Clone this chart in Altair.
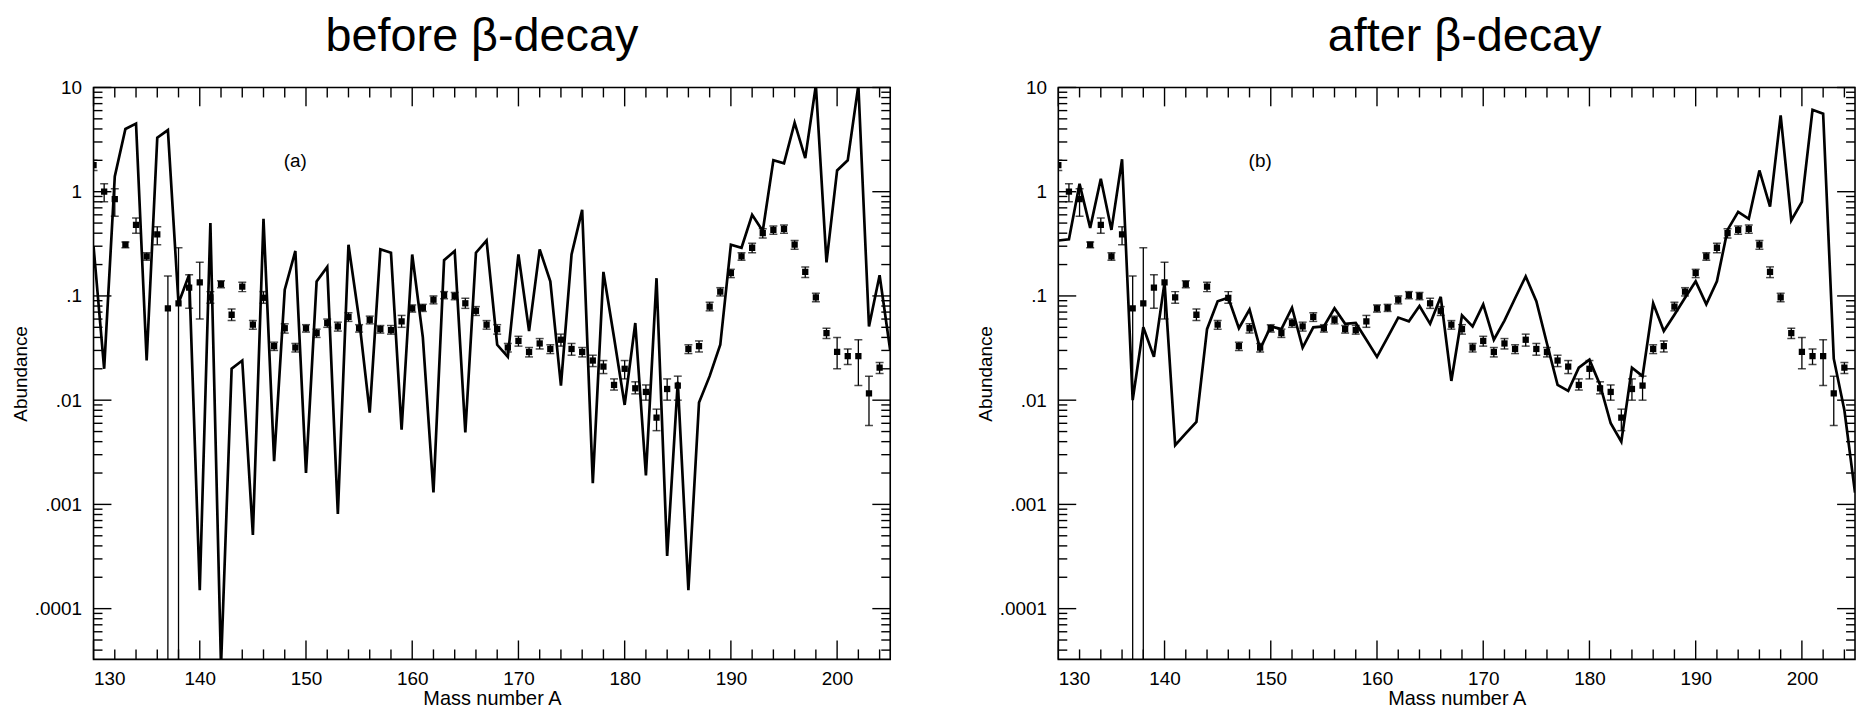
import altair as alt
import pandas as pd

FONT = "Liberation Sans"

# Mass numbers
A_MODEL = list(range(130, 206))
A_OBS = list(range(130, 205))

# Calculated abundances (solid line), panel (a): before beta-decay
before = [0.3, 0.02, 1.4, 4.0, 4.5, 0.024, 3.3, 3.9, 0.085, 0.16,
          1.5e-4, 0.5, 2.8e-5, 0.02, 0.024, 5.1e-4, 0.55, 0.0026, 0.115, 0.27,
          0.002, 0.138, 0.19, 8.1e-4, 0.31, 0.06, 0.0076, 0.28, 0.26, 0.0052,
          0.25, 0.04, 0.0013, 0.22, 0.27, 0.0049, 0.26, 0.34, 0.034, 0.026,
          0.25, 0.046, 0.28, 0.138, 0.0138, 0.25, 0.67, 0.0016, 0.17, 0.04,
          0.009, 0.055, 0.0019, 0.148, 3.2e-4, 0.015, 1.5e-4, 0.0095, 0.017, 0.034,
          0.31, 0.29, 0.6, 0.42, 2.0, 1.87, 4.6, 2.1, 10.5, 0.21,
          1.6, 2.0, 10.5, 0.051, 0.158, 0.03]

# Calculated abundances (solid line), panel (b): after beta-decay
after = [0.34, 0.35, 1.19, 0.45, 1.33, 0.43, 2.05, 0.01, 0.05, 0.026,
         0.135, 0.0037, 0.0048, 0.0062, 0.048, 0.089, 0.096, 0.049, 0.074, 0.031,
         0.051, 0.048, 0.077, 0.032, 0.05, 0.051, 0.076, 0.054, 0.055, 0.038,
         0.026, 0.04, 0.062, 0.057, 0.08, 0.054, 0.098, 0.0153, 0.065, 0.051,
         0.083, 0.038, 0.058, 0.095, 0.154, 0.089, 0.035, 0.014, 0.0123, 0.0205,
         0.0245, 0.014, 0.006, 0.004, 0.0205, 0.017, 0.085, 0.046, 0.066, 0.096,
         0.138, 0.083, 0.138, 0.43, 0.64, 0.55, 1.6, 0.72, 5.4, 0.53,
         0.8, 6.1, 5.6, 0.025, 0.008, 0.0013]

# Observed (solar r-process) abundances with error bars
obs = [1.8, 1.0, 0.85, 0.31, 0.48, 0.24, 0.39, 0.076, 0.085, 0.12,
       0.135, 0.097, 0.13, 0.066, 0.123, 0.053, 0.096, 0.033, 0.049, 0.032,
       0.049, 0.044, 0.055, 0.051, 0.063, 0.049, 0.059, 0.048, 0.047, 0.057,
       0.076, 0.077, 0.092, 0.102, 0.1, 0.085, 0.072, 0.053, 0.048, 0.032,
       0.037, 0.029, 0.035, 0.031, 0.038, 0.031, 0.029, 0.024, 0.021, 0.014,
       0.020, 0.013, 0.012, 0.0068, 0.0128, 0.0138, 0.031, 0.033, 0.079, 0.11,
       0.166, 0.24, 0.29, 0.40, 0.43, 0.44, 0.31, 0.17, 0.097, 0.044,
       0.029, 0.0265, 0.0265, 0.0116, 0.0205]
obs_hi = [2.0, 1.19, 1.07, 0.33, 0.56, 0.26, 0.46, 0.155, 0.29, 0.16,
          0.21, 0.11, 0.14, 0.075, 0.135, 0.058, 0.11, 0.036, 0.054, 0.035,
          0.053, 0.048, 0.06, 0.056, 0.069, 0.053, 0.064, 0.052, 0.052, 0.065,
          0.082, 0.083, 0.1, 0.11, 0.108, 0.095, 0.079, 0.058, 0.053, 0.035,
          0.041, 0.032, 0.039, 0.034, 0.043, 0.035, 0.032, 0.027, 0.024, 0.016,
          0.024, 0.015, 0.014, 0.0082, 0.016, 0.017, 0.034, 0.037, 0.087, 0.12,
          0.18, 0.26, 0.32, 0.44, 0.47, 0.48, 0.34, 0.19, 0.106, 0.049,
          0.040, 0.031, 0.038, 0.017, 0.023]
obs_lo = [1.6, 0.80, 0.58, 0.29, 0.40, 0.22, 0.31, 1e-6, 1e-6, 0.076,
          0.06, 0.085, 0.12, 0.058, 0.11, 0.048, 0.085, 0.030, 0.044, 0.029,
          0.045, 0.040, 0.05, 0.046, 0.057, 0.045, 0.054, 0.044, 0.043, 0.05,
          0.07, 0.071, 0.084, 0.094, 0.092, 0.076, 0.065, 0.048, 0.043, 0.029,
          0.033, 0.026, 0.031, 0.028, 0.033, 0.027, 0.026, 0.021, 0.018, 0.0125,
          0.016, 0.0115, 0.010, 0.0051, 0.010, 0.010, 0.028, 0.029, 0.072, 0.10,
          0.15, 0.22, 0.26, 0.36, 0.39, 0.40, 0.28, 0.15, 0.088, 0.039,
          0.020, 0.022, 0.0138, 0.0057, 0.018]

# Axis tick values
x_labels = [130, 140, 150, 160, 170, 180, 190, 200]
x_minor = [a for a in range(132, 205, 2) if a % 10 != 0]
y_labels = [1e-4, 1e-3, 1e-2, 1e-1, 1, 10]
y_minor = [m * 10.0 ** k for k in range(-5, 1) for m in range(2, 10)
           if 3.26e-5 <= m * 10.0 ** k <= 10]

W, H = 801, 575
xs = alt.Scale(domain=[130, 205], nice=False, zero=False)
ys = alt.Scale(type="log", domain=[3.26e-5, 10], nice=False)

xax = alt.Axis(values=x_labels, format="d", ticks=False, tickSize=0, domain=False,
               grid=False, labelFont=FONT, labelFontSize=19, labelColor="black",
               labelPadding=10, titleFont=FONT, titleFontSize=20,
               titleFontWeight="normal", titleColor="black", titlePadding=0)
yax = alt.Axis(values=y_labels,
               labelExpr="datum.value >= 1 ? format(datum.value, 'd') : replace(format(datum.value, '.4~f'), '0.', '.')",
               ticks=False, tickSize=0, domain=False, grid=False, labelFont=FONT,
               labelFontSize=19, labelColor="black", labelPadding=12,
               titleFont=FONT, titleFontSize=19, titleFontWeight="normal",
               titleColor="black", titlePadding=4)


def X(f):
    return alt.X(f, type="quantitative", scale=xs, axis=xax, title="Mass number A")


def Y(f):
    return alt.Y(f, type="quantitative", scale=ys, axis=yax, title="Abundance")


def panel(model, title, dx, tag):
    df_m = pd.DataFrame({"A": A_MODEL, "v": model})
    df_o = pd.DataFrame({"A": A_OBS, "v": obs, "hi": obs_hi, "lo": obs_lo})
    df_xM = pd.DataFrame({"t": x_labels})
    df_xm = pd.DataFrame({"t": x_minor})
    df_yM = pd.DataFrame({"t": y_labels})
    df_ym = pd.DataFrame({"t": y_minor})

    line = alt.Chart(df_m).mark_line(color="black", strokeWidth=2.7, clip=True).encode(
        x=X("A"), y=Y("v"))
    err = alt.Chart(df_o).mark_rule(color="black", strokeWidth=1.3, clip=True).encode(
        x=X("A"), y=Y("lo"), y2="hi")
    cap_hi = alt.Chart(df_o).mark_tick(orient="horizontal", size=8, thickness=1.5,
                                       color="black", clip=True).encode(x=X("A"), y=Y("hi"))
    cap_lo = alt.Chart(df_o).mark_tick(orient="horizontal", size=8, thickness=1.5,
                                       color="black", clip=True).encode(x=X("A"), y=Y("lo"))
    pts = alt.Chart(df_o).mark_square(size=40, color="black", opacity=1, clip=True).encode(
        x=X("A"), y=Y("v"))

    def xt(df, L):
        bot = alt.Chart(df).mark_rule(color="black", strokeWidth=1.4).encode(
            x=X("t"), y=alt.value(H), y2=alt.value(H - L))
        top = alt.Chart(df).mark_rule(color="black", strokeWidth=1.4).encode(
            x=X("t"), y=alt.value(0), y2=alt.value(L))
        return [bot, top]

    def yt(df, L):
        left = alt.Chart(df).mark_rule(color="black", strokeWidth=1.4).encode(
            y=Y("t"), x=alt.value(0), x2=alt.value(L))
        right = alt.Chart(df).mark_rule(color="black", strokeWidth=1.4).encode(
            y=Y("t"), x=alt.value(W), x2=alt.value(W - L))
        return [left, right]

    lab = alt.Chart(pd.DataFrame({"A": [149], "v": [1.95], "t": [tag]})).mark_text(
        font=FONT, fontSize=19, color="black").encode(x=X("A"), y=Y("v"), text="t:N")

    layers = [line, err, cap_hi, cap_lo, pts, lab] + xt(df_xM, 19) + xt(df_xm, 10) \
        + yt(df_yM, 18) + yt(df_ym, 9)
    return alt.layer(*layers).properties(
        width=W, height=H,
        title=alt.TitleParams(title, font=FONT, fontSize=47, fontWeight="normal",
                              color="black", offset=18, dx=dx, anchor="middle"))


pa = panel(before, "before β-decay", -10, "(a)")
pb = panel(after, "after β-decay", 8, "(b)")

chart = alt.hconcat(pa, pb, spacing=83).properties(
    padding={"left": 2, "top": 2, "right": 0, "bottom": 0}
).configure_view(stroke="black", strokeWidth=1.6)

chart.save("out.html", embed_options={"renderer": "svg", "actions": False})
